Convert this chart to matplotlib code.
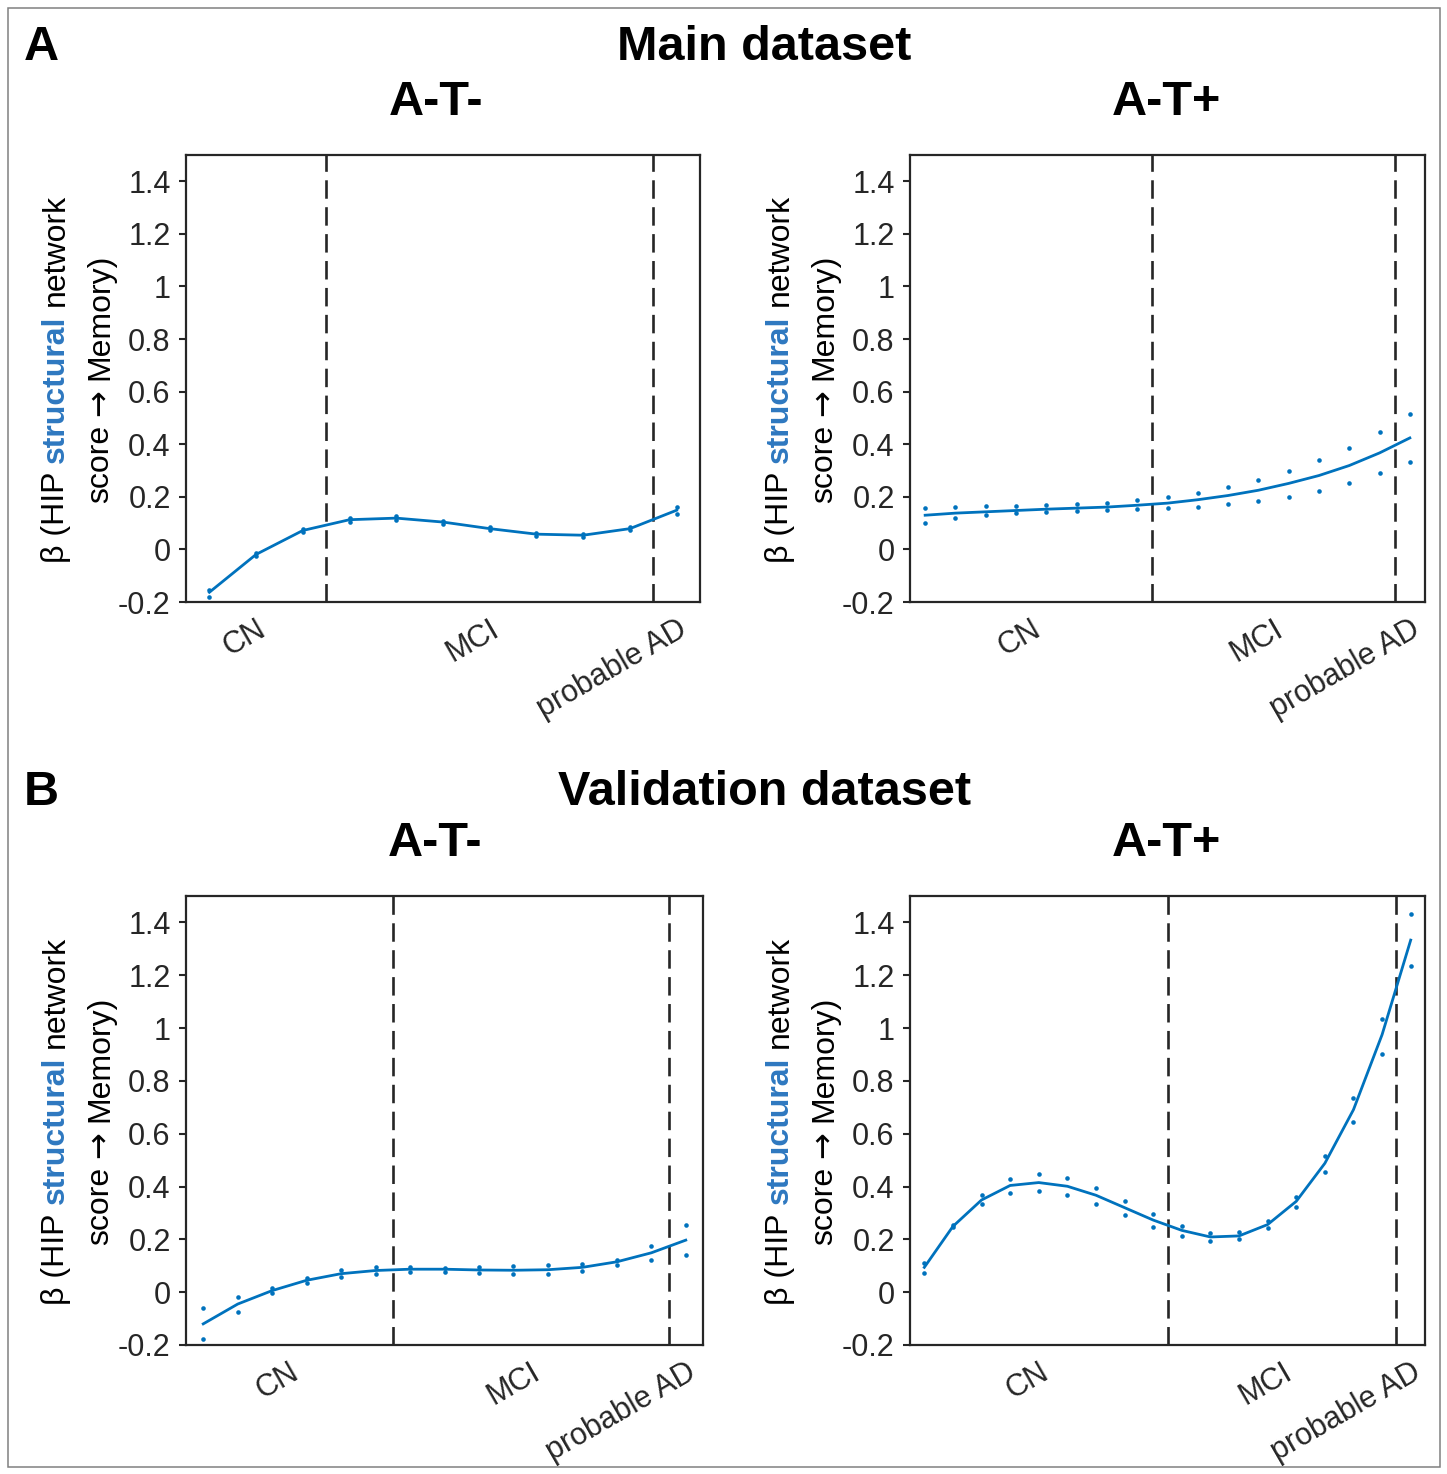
import numpy as np
import matplotlib
matplotlib.use('Agg')
import matplotlib.pyplot as plt
from matplotlib.patches import Rectangle

plt.rcParams['font.family'] = ['Liberation Sans', 'DejaVu Sans']

# bins per stage: CN, MCI, probable AD
stage_names = ['CN', 'MCI', 'probable AD']

# Main dataset, A-T-
main_neg_groups = [3, 7, 1]
main_neg_fit = [-0.163, -0.019, 0.072, 0.113, 0.119, 0.104, 0.079, 0.058, 0.054, 0.079, 0.149]
main_neg_lo = [-0.182, -0.026, 0.067, 0.106, 0.113, 0.097, 0.073, 0.050, 0.047, 0.074, 0.136]
main_neg_hi = [-0.154, -0.014, 0.077, 0.118, 0.126, 0.109, 0.085, 0.063, 0.059, 0.086, 0.162]

# Main dataset, A-T+
main_pos_groups = [8, 8, 1]
main_pos_fit = [0.130, 0.138, 0.143, 0.148, 0.153, 0.157, 0.161, 0.168, 0.176,
                0.189, 0.205, 0.225, 0.251, 0.281, 0.319, 0.367, 0.424]
main_pos_lo = [0.101, 0.118, 0.129, 0.137, 0.142, 0.146, 0.149, 0.152, 0.157,
               0.163, 0.172, 0.185, 0.201, 0.224, 0.253, 0.289, 0.333]
main_pos_hi = [0.157, 0.161, 0.165, 0.167, 0.170, 0.173, 0.178, 0.187, 0.199,
               0.215, 0.237, 0.263, 0.297, 0.339, 0.387, 0.446, 0.514]

# Validation dataset, A-T-
val_neg_groups = [6, 8, 1]
val_neg_fit = [-0.120, -0.045, 0.006, 0.045, 0.070, 0.082, 0.087, 0.087, 0.084,
               0.083, 0.085, 0.094, 0.115, 0.149, 0.197]
val_neg_lo = [-0.178, -0.074, -0.004, 0.036, 0.056, 0.069, 0.076, 0.078, 0.071,
              0.068, 0.069, 0.080, 0.103, 0.121, 0.139]
val_neg_hi = [-0.060, -0.020, 0.015, 0.052, 0.083, 0.094, 0.096, 0.093, 0.094,
              0.098, 0.102, 0.106, 0.121, 0.175, 0.256]

# Validation dataset, A-T+
val_pos_groups = [9, 8, 1]
val_pos_fit = [0.094, 0.249, 0.349, 0.404, 0.415, 0.401, 0.367, 0.320, 0.273,
               0.234, 0.209, 0.213, 0.256, 0.344, 0.488, 0.691, 0.975, 1.333]
val_pos_lo = [0.072, 0.245, 0.333, 0.374, 0.383, 0.367, 0.334, 0.291, 0.248,
              0.213, 0.195, 0.200, 0.242, 0.324, 0.454, 0.645, 0.903, 1.235]
val_pos_hi = [0.111, 0.254, 0.368, 0.430, 0.449, 0.434, 0.396, 0.347, 0.295,
              0.250, 0.224, 0.228, 0.268, 0.361, 0.514, 0.734, 1.036, 1.431]

yticks = [-0.2, 0, 0.2, 0.4, 0.6, 0.8, 1.0, 1.2, 1.4]

LINE_BLUE = '#0072BD'
LABEL_BLUE = '#2E78C0'
DARK = '#262626'
TICK_FS = 22
LABEL_FS = 23
TITLE_FS = 35

W, H = 1447, 1474
fig = plt.figure(figsize=(W / 100, H / 100), dpi=100)

# axes rectangles in pixels: left, right, top, bottom
rects = {
    'A_neg': (186, 700, 155, 602),
    'A_pos': (910, 1425, 155, 602),
    'B_neg': (186, 703, 896, 1345),
    'B_pos': (910, 1425, 896, 1345),
}
title_x = {'A_neg': 436, 'A_pos': 1166, 'B_neg': 435, 'B_pos': 1166}


def make_axes(key):
    l, r, t, b = rects[key]
    return fig.add_axes([l / W, 1 - b / H, (r - l) / W, (b - t) / H])


def draw_panel(ax, groups, fit, lo, hi):
    x = np.arange(len(fit))
    ax.plot(x, lo, 'o', ms=3.3, mec='none', color=LINE_BLUE, zorder=3)
    ax.plot(x, hi, 'o', ms=3.3, mec='none', color=LINE_BLUE, zorder=3)
    ax.plot(x, fit, '-', lw=2.0, color=LINE_BLUE, zorder=4)

    edges = np.cumsum(groups)
    for e in edges[:-1]:
        ax.axvline(e - 0.5, color=DARK, lw=1.9, dashes=(7, 3.2), zorder=2)
    starts = np.concatenate([[0], edges[:-1]])
    centers = starts + (np.array(groups) - 1) / 2
    ax.set_xticks(centers)
    ax.set_xticklabels(stage_names, rotation=30, ha='right', va='top',
                       rotation_mode='anchor', fontsize=TICK_FS, color=DARK)
    ax.tick_params(axis='x', length=0, pad=9)

    ax.set_xlim(-0.5, len(fit) - 0.5)
    ax.set_ylim(-0.2, 1.5)
    ax.set_yticks(yticks)
    ax.set_yticklabels([f'{v:g}' for v in yticks], fontsize=TICK_FS, color=DARK)
    ax.tick_params(axis='y', direction='out', length=5, width=1.5, color=DARK, pad=6)
    for sp in ax.spines.values():
        sp.set_color(DARK)
        sp.set_linewidth(1.6)


renderer = fig.canvas.get_renderer()

probe1 = fig.text(0, 0, 'a a', fontsize=LABEL_FS)
probe2 = fig.text(0, 0, 'aa', fontsize=LABEL_FS)
space_px = (probe1.get_window_extent(renderer).width
            - probe2.get_window_extent(renderer).width)
probe1.remove()
probe2.remove()


def stacked_text(x, yc, pieces):
    """Write rotated pieces of text one after the other, centred on yc."""
    texts = []
    for s, weight, col, fam in pieces:
        texts.append(fig.text(x, yc, s, rotation=90, rotation_mode='anchor',
                              ha='left', va='baseline', fontsize=LABEL_FS,
                              fontweight=weight, color=col, family=fam))
    lengths = [t.get_window_extent(renderer).height for t in texts]
    total = sum(lengths) + space_px * (len(texts) - 1)
    y = yc * H - total / 2
    for t, L in zip(texts, lengths):
        t.set_y(y / H)
        y += L + space_px


def add_ylabel(ax):
    pos = ax.get_position()
    yc = pos.y0 + pos.height / 2
    sans = ['Liberation Sans', 'DejaVu Sans']
    stacked_text(pos.x0 - 122 / W, yc,
                 [('β (HIP', 'normal', 'black', sans),
                  ('structural', 'bold', LABEL_BLUE, sans),
                  ('network', 'normal', 'black', sans)])
    stacked_text(pos.x0 - 78 / W, yc,
                 [('score', 'normal', 'black', sans),
                  ('→', 'normal', 'black', ['DejaVu Sans']),
                  ('Memory)', 'normal', 'black', sans)])


panels = [
    ('A_neg', main_neg_groups, main_neg_fit, main_neg_lo, main_neg_hi, 'A-T-'),
    ('A_pos', main_pos_groups, main_pos_fit, main_pos_lo, main_pos_hi, 'A-T+'),
    ('B_neg', val_neg_groups, val_neg_fit, val_neg_lo, val_neg_hi, 'A-T-'),
    ('B_pos', val_pos_groups, val_pos_fit, val_pos_lo, val_pos_hi, 'A-T+'),
]

for key, groups, fit, lo, hi, title in panels:
    ax = make_axes(key)
    draw_panel(ax, groups, fit, lo, hi)
    add_ylabel(ax)
    l, r, t, b = rects[key]
    fig.text(title_x[key] / W, 1 - (t - 40) / H, title, ha='center', va='baseline',
             fontsize=TITLE_FS, fontweight='bold')

# row headings and panel letters
fig.text(764 / W, 1 - 60 / H, 'Main dataset', ha='center', va='baseline',
         fontsize=TITLE_FS, fontweight='bold')
fig.text(765 / W, 1 - 805 / H, 'Validation dataset', ha='center', va='baseline',
         fontsize=TITLE_FS, fontweight='bold')
fig.text(24 / W, 1 - 60 / H, 'A', ha='left', va='baseline',
         fontsize=TITLE_FS, fontweight='bold')
fig.text(24 / W, 1 - 805 / H, 'B', ha='left', va='baseline',
         fontsize=TITLE_FS, fontweight='bold')

# thin frame round the figure
fig.patches.append(Rectangle((7.5 / W, 1 - 1467 / H), (1440 - 7.5) / W, (1467 - 8) / H,
                             transform=fig.transFigure, fill=False,
                             edgecolor='#808080', lw=1.1))

fig.savefig('out.png', dpi=100)
plt.close(fig)
